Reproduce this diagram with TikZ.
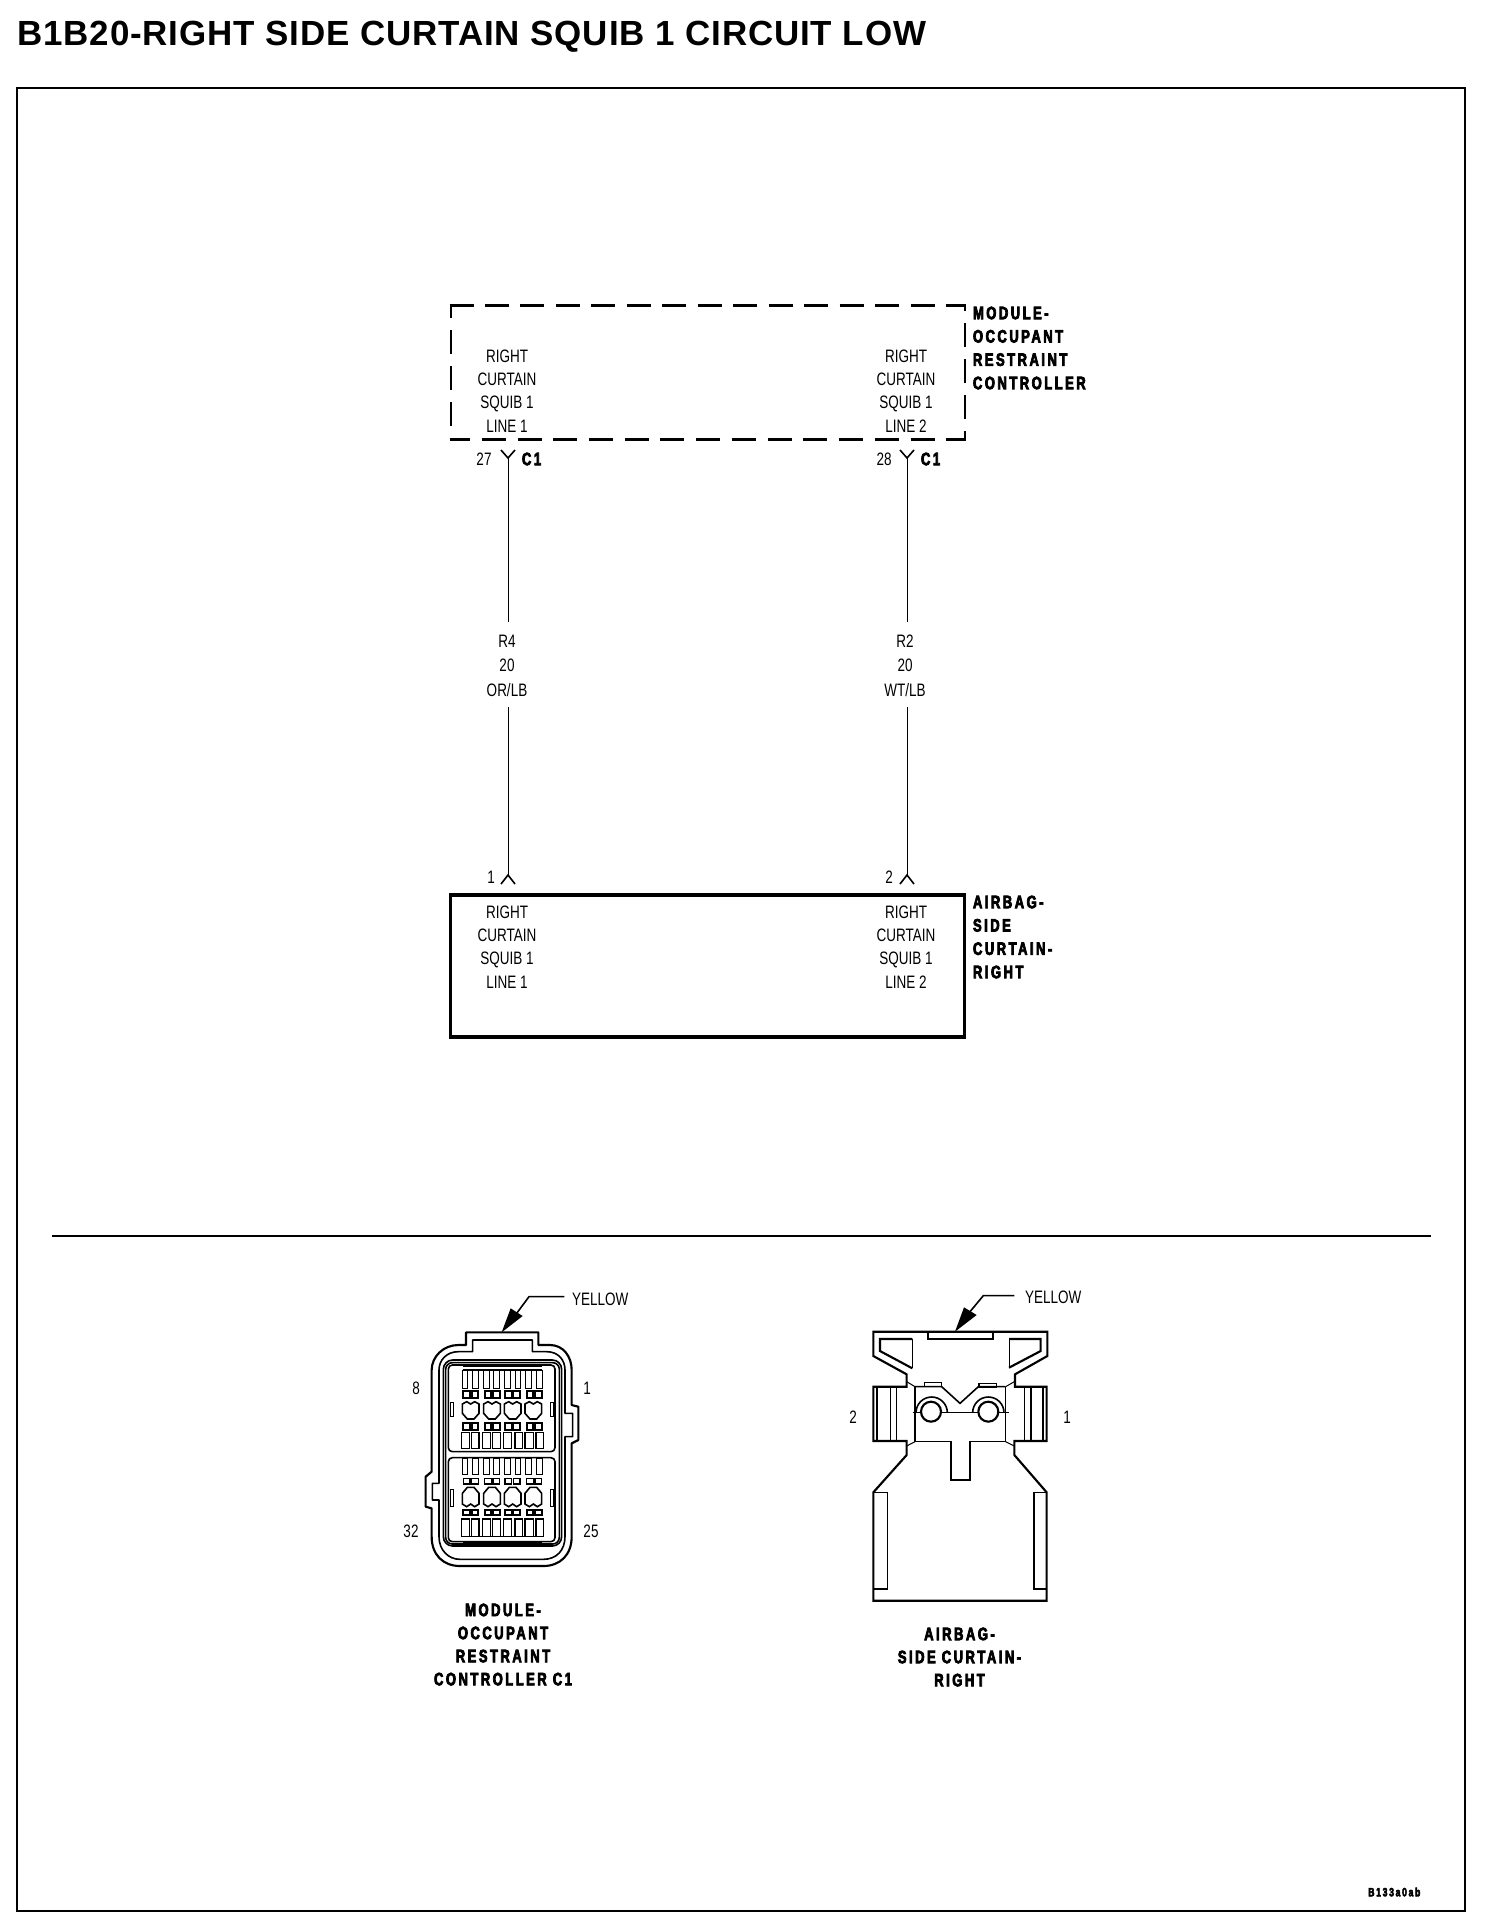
\documentclass[tikz,border=0pt]{standalone}
\usepackage{fontspec}
\setmainfont{Liberation Sans}
\newfontfamily\titlef[LetterSpace=2.5]{Liberation Sans}
\newfontfamily\thinf[FakeStretch=0.75]{Liberation Sans}
\newfontfamily\heavyf[FakeStretch=0.72,LetterSpace=14,BoldFeatures={FakeBold=4}]{Liberation Sans}
\tikzset{
  thinl/.style={inner sep=0pt,outer sep=0pt,align=center,font=\thinf\fontsize{13.5}{17.5}\selectfont},
  wirel/.style={inner sep=0pt,outer sep=0pt,align=center,minimum height=63.75pt,font=\thinf\fontsize{13.5}{18.4}\selectfont},
  heavyl/.style={inner sep=0pt,outer sep=0pt,align=left,anchor=west,font=\heavyf\bfseries\fontsize{13.5}{17.5}\selectfont},
  heavyc/.style={inner sep=0pt,outer sep=0pt,align=center,font=\heavyf\bfseries\fontsize{13.5}{17.3}\selectfont},
  pinl/.style={inner sep=0pt,outer sep=0pt,font=\thinf\fontsize{13.5}{16}\selectfont},
  cbold/.style={inner sep=0pt,outer sep=0pt,anchor=west,font=\heavyf\bfseries\fontsize{13.5}{16}\selectfont},
  solidbox/.style={draw,line width=2.4pt,inner sep=0pt,outer sep=0pt,minimum width=385.5pt,minimum height=106.5pt},
  plainbox/.style={inner sep=0pt,outer sep=0pt,minimum width=385.5pt,minimum height=100pt},
  dashside/.style={line width=2.2pt,shorten >=-1.1pt,shorten <=-1.1pt},
  wire/.style={line width=0.7pt},
  conn/.style={line width=1.2pt},
  connthin/.style={line width=0.75pt},
  connheavy/.style={line width=1.6pt},
}
\begin{document}
\begin{tikzpicture}[x=0.75pt,y=-0.75pt]
\useasboundingbox (0,0) rectangle (1504,1928);
% title and frame
\node[inner sep=0pt,anchor=west,font=\titlef\bfseries\fontsize{26.2}{30}\selectfont] (title) at (17,37) {B1B20-RIGHT SIDE CURTAIN SQUIB 1 CIRCUIT LOW};
\draw[line width=1.9pt] (17,88) rectangle (1465,1911);
\coordinate (sepl) at (52,1236);
\coordinate (sepr) at (1431,1236);
\draw[line width=0.85pt] (sepl) -- (sepr);
\node[inner sep=0pt,anchor=west,font=\heavyf\bfseries\fontsize{9}{10}\selectfont] (code) at (1368,1892) {B133a0ab};

% module
\node[plainbox] (mod) at (708,372.5) {};
\draw[dashside,dash pattern=on 18pt off 8.6pt] (mod.north west) -- (mod.north east);
\draw[dashside,dash pattern=on 18pt off 8.8pt,dash phase=2.6pt] (mod.south west) -- (mod.south east);
\draw[dashside,dash pattern=on 18pt off 9pt,dash phase=12.8pt] (mod.north east) -- (mod.south east);
\draw[dashside,dash pattern=on 18pt off 9pt,dash phase=15.7pt] (mod.south west) -- (mod.north west);
\node[thinl] (mod1) at (507,391) {RIGHT\\CURTAIN\\SQUIB 1\\LINE 1};
\node[thinl] (mod2) at (906,391) {RIGHT\\CURTAIN\\SQUIB 1\\LINE 2};
\node[heavyl] (modname) at (973,348) {MODULE-\\OCCUPANT\\RESTRAINT\\CONTROLLER};

% airbag
\node[solidbox] (bag) at (707.5,966) {};
\node[thinl] (bag1) at (507,947) {RIGHT\\CURTAIN\\SQUIB 1\\LINE 1};
\node[thinl] (bag2) at (906,947) {RIGHT\\CURTAIN\\SQUIB 1\\LINE 2};
\node[heavyl] (bagname) at (973,937) {AIRBAG-\\SIDE\\CURTAIN-\\RIGHT};

% wires
\node[wirel] (w1) at (507,665.5) {R4\\20\\OR/LB};
\node[wirel] (w2) at (905,665.5) {R2\\20\\WT/LB};
\coordinate (t1) at (508,458); \coordinate (t1l) at (501,450); \coordinate (t1r) at (515,450);
\coordinate (t2) at (907,458); \coordinate (t2l) at (900,450); \coordinate (t2r) at (914,450);
\coordinate (b1) at (508,875); \coordinate (b1l) at (501,884); \coordinate (b1r) at (515,884);
\coordinate (b2) at (907,875); \coordinate (b2l) at (900,884); \coordinate (b2r) at (914,884);
\draw[wire] (t1) -- (508,622);
\draw[wire] (508,707) -- (b1);
\draw[wire] (t2) -- (907,622);
\draw[wire] (907,707) -- (b2);
\draw[conn] (t1l) -- (t1) -- (t1r);
\draw[conn] (t2l) -- (t2) -- (t2r);
\draw[conn] (b1l) -- (b1) -- (b1r);
\draw[conn] (b2l) -- (b2) -- (b2r);
\node[pinl] (p27) at (484,459) {27};
\node[pinl] (p28) at (884,459) {28};
\node[cbold] (c1a) at (522,459) {C1};
\node[cbold] (c1b) at (921,459) {C1};
\node[pinl] (p1) at (491,877) {1};
\node[pinl] (p2) at (889,877) {2};

% left connector
\node[pinl,anchor=west] (yl) at (572,1299) {YELLOW};
\node[pinl] (n8) at (416,1388) {8};
\node[pinl] (n1) at (587,1388) {1};
\node[pinl] (n32) at (411,1531) {32};
\node[pinl] (n25) at (591,1531) {25};
\node[heavyc] (lname) at (503,1644.5) {MODULE-\\OCCUPANT\\RESTRAINT\\CONTROLLER C1};
\begin{scope}[shift={(380,1280)},x=0.25pt,y=-0.25pt]
  % pointer
  \fill (365,157) -- (392,85) -- (428,108) -- cycle;
  \draw[conn] (410,100) -- (447,50) -- (553,50);
  % outer outline
  \draw[connheavy,line join=round] (258,157) -- (475,157) -- (475,195) -- (510,195)
     .. controls (550,195) and (575,230) .. (575,270) -- (575,375) -- (595,380) -- (595,480) -- (575,490)
     -- (575,770) .. controls (575,825) and (540,858) .. (490,858) -- (240,858)
     .. controls (190,858) and (155,825) .. (155,770) -- (155,685) -- (137,680) -- (137,590) -- (155,575)
     -- (155,270) .. controls (155,230) and (190,195) .. (235,195) -- (258,195) -- cycle;
  \draw[conn,line join=round] (278,180) -- (457,180) -- (457,215) -- (500,215)
     .. controls (535,215) and (555,240) .. (555,270) -- (555,400) -- (578,400) -- (578,470) -- (555,470)
     -- (555,770) .. controls (555,810) and (530,838) .. (490,838) -- (240,838)
     .. controls (205,838) and (177,810) .. (177,770) -- (177,660) -- (157,660) -- (157,610) -- (177,610)
     -- (177,270) .. controls (177,240) and (200,215) .. (235,215) -- (278,215) -- cycle;
  % inner shell
  \draw[conn,rounded corners=7pt] (190,240) rectangle (545,798);
  \draw[conn,rounded corners=5pt] (197,248) rectangle (538,792);
  % cavities
  \draw[conn,rounded corners=3pt] (205,255) rectangle (525,515);
  \draw[conn,rounded corners=3pt] (205,533) rectangle (525,785);
  \draw[connheavy] (248,258) -- (487,258);
  \draw[conn] (248,270) -- (487,270);
  \draw[connheavy] (248,785) -- (487,785);
  \draw[conn] (248,770) -- (487,770);
  % side marks
  \draw[connthin] (212,368) rectangle (220,408);
  \draw[connthin] (510,368) rectangle (520,408);
  \draw[connthin] (212,628) rectangle (220,678);
  \draw[connthin] (510,628) rectangle (520,678);
  % slits
  \foreach \a/\b in {248/262,278/296,310/328,340/358,373/392,405/422,435/455,470/487}{
    \draw[connthin] (\a,272) rectangle (\b,325);
    \draw[connthin] (\a,535) rectangle (\b,582);
  }
  \foreach \a/\b in {245/268,275/297,308/332,338/362,370/395,405/427,435/460,468/490}{
    \draw[conn] (\a,458) rectangle (\b,505);
    \draw[conn] (\a,717) rectangle (\b,770);
  }
  % square pairs
  \foreach \l in {250,314,375,440}{
    \draw[connheavy] (\l,334) rectangle +(20,20);
    \draw[connheavy] (\l+25,334) rectangle +(20,20);
    \draw[connheavy] (\l,430) rectangle +(20,20);
    \draw[connheavy] (\l+25,430) rectangle +(20,20);
    \draw[conn] (\l,596) rectangle +(20,16);
    \draw[conn] (\l+25,596) rectangle +(20,16);
    \draw[connheavy] (\l,690) rectangle +(20,16);
    \draw[connheavy] (\l+25,690) rectangle +(20,16);
  }
  % shields
  \foreach \c in {272,336,398,460}{
    \draw[conn] (\c-25,372) -- (\c-12,365) -- (\c,372) -- (\c+12,365) -- (\c+25,372) -- (\c+25,400) -- (\c+10,417) -- (\c-10,417) -- (\c-25,400) -- cycle;
    \draw[conn] (\c-25,640) -- (\c-10,622) -- (\c+10,622) -- (\c+25,640) -- (\c+25,672) -- (\c+12,680) -- (\c,672) -- (\c-12,680) -- (\c-25,672) -- cycle;
  }
\end{scope}

% right connector
\node[pinl,anchor=west] (yr) at (1025,1297) {YELLOW};
\node[pinl] (n2r) at (853,1417) {2};
\node[pinl] (n1r) at (1067,1417) {1};
\node[heavyc] (rname) at (959.5,1657) {AIRBAG-\\SIDE CURTAIN-\\RIGHT};
\begin{scope}[shift={(840,1280)},x=0.25pt,y=-0.25pt]
  \fill (345,155) -- (372,82) -- (410,105) -- cycle;
  \draw[conn] (390,95) -- (430,47) -- (523,47);
  % outline
  \draw[connheavy] (100,155) -- (622,155) -- (622,228) -- (525,283) -- (525,320) -- (620,320) -- (620,483) -- (523,483) -- (523,525) -- (620,637) -- (620,962) -- (100,962) -- (100,637) -- (200,525) -- (200,483) -- (100,483) -- (100,320) -- (200,320) -- (200,283) -- (100,228) -- cycle;
  \draw[connheavy] (263,155) -- (263,177) -- (458,177) -- (458,155);
  % windows
  \draw[connheavy] (217,177) -- (120,177) -- (120,213) -- (217,265);
  \draw[connthin] (217,177) -- (217,265);
  \draw[connheavy] (507,177) -- (602,177) -- (602,213) -- (507,263);
  \draw[connthin] (507,177) -- (507,263);
  % centre block
  \draw[conn] (225,320) -- (305,320) -- (360,370) -- (415,320) -- (497,320);
  \draw[conn] (253,308) rectangle (305,320);
  \draw[conn] (417,310) rectangle (470,322);
  \draw[connthin] (200,305) -- (225,320);
  \draw[connthin] (523,305) -- (497,320);
  \draw[connthin] (200,498) -- (225,485);
  \draw[connthin] (523,498) -- (497,485);
  \draw[conn] (225,320) -- (225,485) -- (333,485) -- (333,600) -- (390,600) -- (390,485) -- (497,485) -- (497,320);
  % pins
  \draw[connthin] (218,398) -- (508,398);
  \draw[connheavy,fill=white] (273,395) circle (30);
  \draw[connheavy,fill=white] (445,395) circle (30);
  \draw[conn] (228,398) arc[start angle=180,end angle=360,radius=47];
  \draw[conn] (398,398) arc[start angle=180,end angle=360,radius=47];
  % ribs
  \draw[connheavy] (110,320) -- (110,483);
  \draw[connthin] (150,320) -- (150,483);
  \draw[connthin] (170,320) -- (170,483);
  \draw[connthin] (553,320) -- (553,483);
  \draw[connheavy] (572,320) -- (572,483);
  \draw[connheavy] (610,320) -- (610,483);
  % rails
  \draw[conn] (142,637) -- (142,927) -- (100,927);
  \draw[conn] (100,637) -- (142,637);
  \draw[conn] (582,637) -- (582,927) -- (620,927);
  \draw[conn] (582,637) -- (620,637);
\end{scope}
\end{tikzpicture}
\end{document}
